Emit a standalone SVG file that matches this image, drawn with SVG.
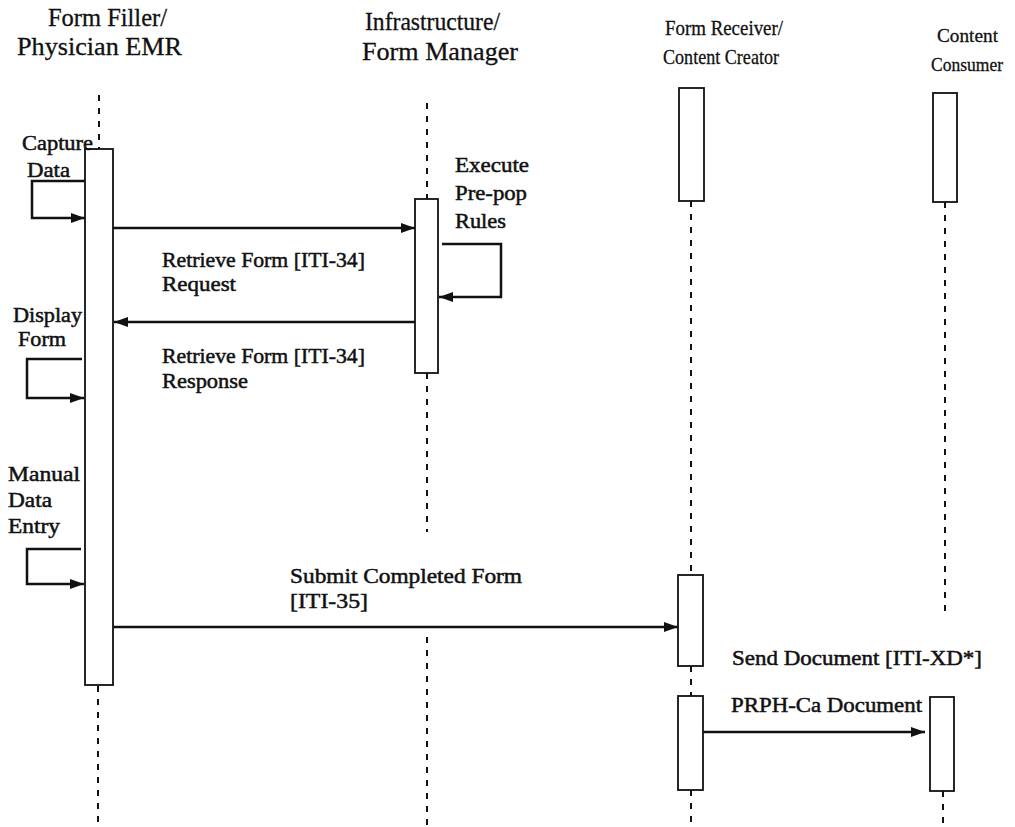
<svg xmlns="http://www.w3.org/2000/svg" width="1015" height="827" viewBox="0 0 1015 827">
<style>
text{font-family:"Liberation Serif","Times New Roman",serif;fill:#111;stroke:#111;}
.hl{font-size:25px;stroke-width:0.3;}
.hr{font-size:22px;stroke-width:0.3;}
.hc{font-size:19px;stroke-width:0.3;}
.lb{font-size:21px;stroke-width:0.5;}
.life{stroke:#111;stroke-width:2;stroke-dasharray:6 7;fill:none;}
.act{fill:#fff;stroke:#111;stroke-width:1.8;}
.msg{stroke:#111;stroke-width:2.5;fill:none;}
</style>
<defs>
<marker id="ah" viewBox="0 0 14 10" refX="14" refY="5" markerWidth="14" markerHeight="10" markerUnits="userSpaceOnUse" orient="auto">
<path d="M0,0 L14,5 L0,10 z" fill="#111"/>
</marker>
</defs>
<rect width="1015" height="827" fill="#fff"/>

<g id="formFiller">
<text class="hl" x="48" y="26" textLength="119" lengthAdjust="spacingAndGlyphs">Form Filler/</text>
<text class="hl" x="17" y="55" textLength="165" lengthAdjust="spacingAndGlyphs">Physician EMR</text>
<line class="life" x1="99" y1="95" x2="99" y2="149"/>
<line class="life" x1="98" y1="686" x2="98" y2="827"/>
<rect class="act" x="85" y="149" width="28" height="536"/>
</g>

<g id="formManager">
<text class="hl" x="365" y="30" textLength="135" lengthAdjust="spacingAndGlyphs">Infrastructure/</text>
<text class="hl" x="362" y="60" textLength="156" lengthAdjust="spacingAndGlyphs">Form Manager</text>
<line class="life" x1="427" y1="103" x2="427" y2="199"/>
<line class="life" x1="427" y1="373" x2="427" y2="532"/>
<line class="life" x1="427" y1="637" x2="427" y2="827"/>
<rect class="act" x="415" y="199" width="23" height="174"/>
</g>

<g id="contentCreator">
<text class="hr" x="665" y="35" textLength="118" lengthAdjust="spacingAndGlyphs">Form Receiver/</text>
<text class="hr" x="663" y="64" textLength="116" lengthAdjust="spacingAndGlyphs">Content Creator</text>
<rect class="act" x="679" y="88" width="25" height="113"/>
<line class="life" x1="691" y1="201" x2="691" y2="575"/>
<rect class="act" x="678" y="575" width="25" height="91"/>
<line class="life" x1="691" y1="666" x2="691" y2="696"/>
<rect class="act" x="678" y="696" width="25" height="94"/>
<line class="life" x1="691" y1="790" x2="691" y2="827"/>
</g>

<g id="contentConsumer">
<text class="hc" x="937" y="42" textLength="61" lengthAdjust="spacingAndGlyphs">Content</text>
<text class="hc" x="931" y="71" textLength="72" lengthAdjust="spacingAndGlyphs">Consumer</text>
<rect class="act" x="933" y="93" width="24" height="109"/>
<line class="life" x1="945" y1="202" x2="945" y2="613"/>
<rect class="act" x="930" y="697" width="24" height="94"/>
<line class="life" x1="943" y1="791" x2="943" y2="827"/>
</g>

<g id="connectors">
<path class="msg" d="M85,181 H32 V218 H85" marker-end="url(#ah)"/>
<line class="msg" x1="113" y1="228" x2="415" y2="228" marker-end="url(#ah)"/>
<path class="msg" d="M442,244 H501 V297 H439" marker-end="url(#ah)"/>
<line class="msg" x1="415" y1="322" x2="114" y2="322" marker-end="url(#ah)"/>
<path class="msg" d="M82,359 H27 V398 H84" marker-end="url(#ah)"/>
<path class="msg" d="M81,549 H27 V584 H84" marker-end="url(#ah)"/>
<line class="msg" x1="113" y1="627" x2="678" y2="627" marker-end="url(#ah)"/>
<line class="msg" x1="703" y1="732" x2="925" y2="732" marker-end="url(#ah)"/>
</g>

<g id="labels">
<text class="lb" x="22" y="150" textLength="71" lengthAdjust="spacingAndGlyphs">Capture</text>
<text class="lb" x="27" y="177" textLength="43" lengthAdjust="spacingAndGlyphs">Data</text>
<text class="lb" x="455" y="172" textLength="74" lengthAdjust="spacingAndGlyphs">Execute</text>
<text class="lb" x="455" y="200" textLength="72" lengthAdjust="spacingAndGlyphs">Pre-pop</text>
<text class="lb" x="455" y="228" textLength="51" lengthAdjust="spacingAndGlyphs">Rules</text>
<text class="lb" x="162" y="267" textLength="203" lengthAdjust="spacingAndGlyphs">Retrieve Form [ITI-34]</text>
<text class="lb" x="162" y="291" textLength="74" lengthAdjust="spacingAndGlyphs">Request</text>
<text class="lb" x="13" y="322" textLength="69" lengthAdjust="spacingAndGlyphs">Display</text>
<text class="lb" x="18" y="346" textLength="48" lengthAdjust="spacingAndGlyphs">Form</text>
<text class="lb" x="162" y="363" textLength="203" lengthAdjust="spacingAndGlyphs">Retrieve Form [ITI-34]</text>
<text class="lb" x="162" y="388" textLength="86" lengthAdjust="spacingAndGlyphs">Response</text>
<text class="lb" x="8" y="481" textLength="72" lengthAdjust="spacingAndGlyphs">Manual</text>
<text class="lb" x="8" y="507" textLength="44" lengthAdjust="spacingAndGlyphs">Data</text>
<text class="lb" x="8" y="533" textLength="52" lengthAdjust="spacingAndGlyphs">Entry</text>
<text class="lb" x="290" y="583" textLength="232" lengthAdjust="spacingAndGlyphs">Submit Completed Form</text>
<text class="lb" x="290" y="608" textLength="78" lengthAdjust="spacingAndGlyphs">[ITI-35]</text>
<text class="lb" x="732" y="665" textLength="250" lengthAdjust="spacingAndGlyphs">Send Document [ITI-XD*]</text>
<text class="lb" x="731" y="712" textLength="191" lengthAdjust="spacingAndGlyphs">PRPH-Ca Document</text>
</g>
</svg>
